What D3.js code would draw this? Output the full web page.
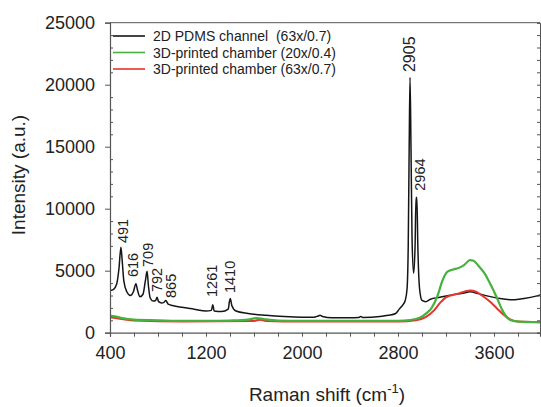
<!DOCTYPE html>
<html>
<head>
<meta charset="utf-8">
<script src="https://cdn.jsdelivr.net/npm/d3@7/dist/d3.min.js"></script>
<style>
  body { margin: 0; background: #fff; }
  svg { display: block; font-family: "Liberation Sans", Arial, sans-serif; }
  text { white-space: pre; }
</style>
</head>
<body>
<script>
// Raman shift (cm-1) / intensity pairs
const pdmsShift = [400, 430, 455, 475, 491, 500, 515, 540, 570, 595, 616, 630, 650, 675, 695, 709, 720, 735, 760, 780, 792, 805, 830, 850, 865, 885, 920, 1000, 1100, 1200, 1245, 1256, 1268, 1330, 1385, 1395, 1402, 1415, 1450, 1550, 1700, 1850, 2000, 2100, 2135, 2150, 2170, 2250, 2400, 2470, 2490, 2510, 2650, 2720, 2780, 2810, 2840, 2860, 2875, 2885, 2893, 2900, 2908, 2917, 2930, 2942, 2950, 2957, 2965, 2980, 3000, 3030, 3070, 3150, 3250, 3350, 3400, 3470, 3550, 3650, 3750, 3850, 3950, 4000];
const pdmsInt = [3400, 3500, 3900, 5200, 6900, 6000, 4200, 3300, 3000, 3300, 3950, 3400, 2900, 3100, 4200, 4950, 3800, 2800, 2550, 2600, 2850, 2500, 2400, 2450, 2600, 2300, 2200, 2050, 1900, 1750, 1800, 2250, 1750, 1700, 1900, 2500, 2750, 2200, 1750, 1550, 1400, 1300, 1250, 1250, 1350, 1400, 1300, 1200, 1200, 1220, 1300, 1220, 1300, 1400, 1550, 1900, 2250, 2600, 3500, 7000, 15000, 20600, 15000, 7500, 4800, 7000, 10900, 10900, 7000, 3500, 2600, 2500, 2700, 2850, 3050, 3200, 3300, 3150, 2950, 2750, 2650, 2750, 2950, 3100];

const green20Shift = [400, 450, 500, 600, 800, 1000, 1200, 1400, 1550, 1620, 1680, 1800, 2000, 2400, 2800, 2900, 2980, 3040, 3080, 3130, 3170, 3210, 3260, 3300, 3350, 3400, 3430, 3470, 3520, 3570, 3620, 3670, 3710, 3760, 3850, 4000];
const green20Int = [1350, 1300, 1180, 1050, 1000, 950, 950, 980, 1050, 1180, 1100, 980, 950, 950, 960, 1020, 1200, 1600, 2000, 3000, 4200, 4900, 5100, 5200, 5450, 5850, 5800, 5400, 4800, 3900, 2900, 1800, 1200, 950, 870, 850];

const red63Shift = [400, 500, 600, 1000, 1600, 1650, 1700, 2000, 2800, 2950, 3030, 3100, 3150, 3200, 3300, 3400, 3450, 3500, 3560, 3620, 3680, 3730, 3800, 4000];
const red63Int = [1250, 1100, 980, 900, 950, 1050, 950, 900, 900, 1000, 1250, 1800, 2400, 2850, 3150, 3400, 3300, 3000, 2550, 2000, 1450, 1100, 900, 850];

const seriesNames = ['2D PDMS channel  (63x/0.7)', '3D-printed chamber (20x/0.4)', '3D-printed chamber (63x/0.7)'];
const seriesColors = ['#151515', '#44b23c', '#e8322c'];

// peak labels: text, where the label stands (shift, intensity of its foot)
const peakText = ['491', '616', '709', '792', '865', '1261', '1410', '2905', '2964'];
const peakAtShift = [508, 592, 717, 792, 908, 1250, 1400, 2900, 2983];
const peakAtInt = [7230, 4490, 5300, 3280, 2800, 2880, 3200, 21020, 11450];

const xTicks = [400, 1200, 2000, 2800, 3600];
const yTicks = [0, 5000, 10000, 15000, 20000, 25000];

const W = 541, H = 407;
const mLeft = 110, mRight = 540, mTop = 22.7, mBottom = 332.7;

const svg = d3.select('body').append('svg')
    .attr('width', W)
    .attr('height', H);

const x = d3.scaleLinear().domain([400, 3983]).range([mLeft, mRight]);
const y = d3.scaleLinear().domain([0, 25000]).range([mBottom, mTop]);

svg.append('clipPath').attr('id', 'plot')
    .append('rect')
    .attr('x', mLeft).attr('y', mTop)
    .attr('width', mRight - mLeft).attr('height', mBottom - mTop);

const line = d3.line()
    .x((d) => x(d[0]))
    .y((d) => y(d[1]))
    .curve(d3.curveMonotoneX);

// black first, then red, green on top
const series = [
    { pts: d3.zip(pdmsShift, pdmsInt), color: seriesColors[0], w: 1.5 },
    { pts: d3.zip(red63Shift, red63Int), color: seriesColors[2], w: 2 },
    { pts: d3.zip(green20Shift, green20Int), color: seriesColors[1], w: 2.2 }
];

svg.append('g')
    .attr('clip-path', 'url(#plot)')
    .selectAll('path')
    .data(series)
    .enter()
    .append('path')
    .attr('d', (d) => line(d.pts))
    .attr('fill', 'none')
    .attr('stroke', (d) => d.color)
    .attr('stroke-width', (d) => d.w)
    .attr('stroke-linejoin', 'round');

// frame
const axisColor = '#555';
svg.append('line')
    .attr('x1', mLeft).attr('x2', mRight)
    .attr('y1', mTop).attr('y2', mTop)
    .attr('stroke', axisColor).attr('stroke-width', 1);

// bottom axis
const xAxis = d3.axisBottom(x)
    .tickValues(d3.range(400, 3984, 200))
    .tickSize(4)
    .tickFormat((d) => xTicks.includes(d) ? d3.format('d')(d) : '');
const gx = svg.append('g')
    .attr('transform', 'translate(0,' + mBottom + ')')
    .call(xAxis);
gx.select('.domain').attr('stroke', axisColor).attr('stroke-width', 1.2);
gx.selectAll('line').attr('stroke', axisColor);
gx.selectAll('text')
    .attr('fill', '#222')
    .attr('font-size', 18)
    .attr('dy', '1.05em');

// left axis: major outside, minor inside
const yAxis = d3.axisLeft(y)
    .tickValues(yTicks)
    .tickSize(5)
    .tickPadding(10)
    .tickFormat(d3.format('d'));
const gy = svg.append('g')
    .attr('transform', 'translate(' + mLeft + ',0)')
    .call(yAxis);
gy.select('.domain').attr('stroke', axisColor).attr('stroke-width', 1.2);
gy.selectAll('line').attr('stroke', axisColor);
gy.selectAll('text')
    .attr('fill', '#222')
    .attr('font-size', 18);

const minorY = d3.range(1000, 25000, 1000).filter((v) => v % 5000 !== 0);
svg.append('g')
    .attr('transform', 'translate(' + mLeft + ',0)')
    .call(d3.axisRight(y).tickValues(minorY).tickSize(3).tickFormat(''))
    .call((g) => g.select('.domain').remove())
    .selectAll('line').attr('stroke', axisColor);

// right axis, ticks pointing in
svg.append('g')
    .attr('transform', 'translate(' + mRight + ',0)')
    .call(d3.axisLeft(y).tickValues(d3.range(0, 25001, 1000)).tickSize(3).tickFormat(''))
    .call((g) => g.select('.domain').attr('stroke', axisColor))
    .selectAll('line').attr('stroke', axisColor);

// axis titles
svg.append('text')
    .attr('transform', 'translate(25,175) rotate(-90)')
    .attr('text-anchor', 'middle')
    .attr('font-size', 19)
    .attr('fill', '#222')
    .text('Intensity (a.u.)');

const xt = svg.append('text')
    .attr('x', 327)
    .attr('y', 401)
    .attr('text-anchor', 'middle')
    .attr('font-size', 19)
    .attr('fill', '#222');
xt.append('tspan').text('Raman shift (cm');
xt.append('tspan').attr('font-size', 13).attr('dy', -8).text('-1');
xt.append('tspan').attr('dy', 8).text(')');

// legend
const lg = svg.append('g');
seriesNames.forEach((name, i) => {
    const ly = 36 + i * 16.5;
    lg.append('line')
        .attr('x1', 113).attr('x2', 145)
        .attr('y1', ly).attr('y2', ly)
        .attr('stroke', seriesColors[i]).attr('stroke-width', 1.6);
    lg.append('text')
        .attr('x', 153)
        .attr('y', ly + 5)
        .attr('font-size', 14)
        .attr('fill', '#222')
        .text(name);
});

// peak labels
svg.append('g')
    .selectAll('text')
    .data(peakText)
    .enter()
    .append('text')
    .attr('transform', (d, i) => 'translate(' + (x(peakAtShift[i]) + 5) + ',' + y(peakAtInt[i]) + ') rotate(-90)')
    .attr('font-size', (d) => d === '2905' ? 16 : 14.5)
    .attr('fill', '#222')
    .text((d) => d);
</script>
</body>
</html>
